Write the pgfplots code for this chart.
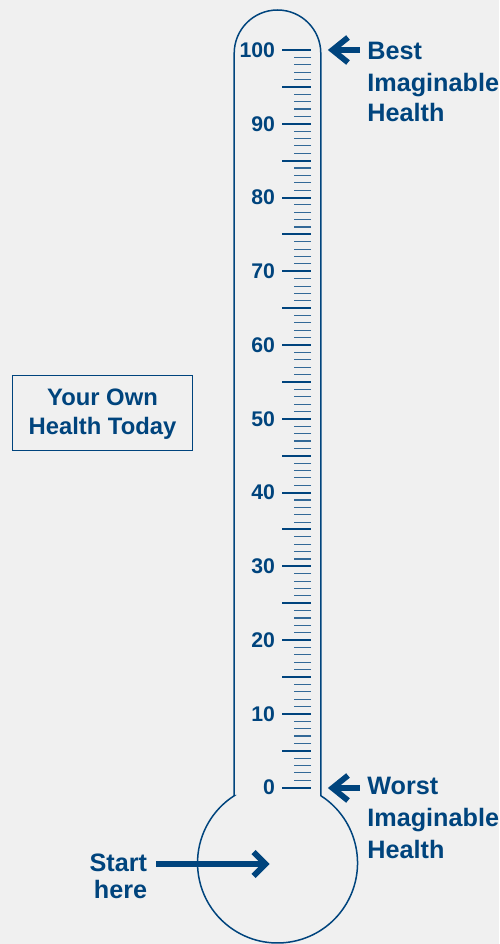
\documentclass[border=0pt]{standalone}
\usepackage{fontspec}
\setmainfont{Liberation Sans}
\usepackage{pgfplots}
\pgfplotsset{compat=1.18}
\definecolor{eqblue}{RGB}{0,68,125}
\definecolor{bg}{RGB}{240,240,240}
\newcommand\labfont{\fontsize{12.6}{15.5}\selectfont\bfseries}
\newcommand\boxfont{\fontsize{11.9}{14}\selectfont\bfseries}
\begin{document}
\begin{tikzpicture}
\fill[bg] (0,0) rectangle (249.5pt,472pt);
\begin{axis}[at={(0,0)}, anchor=south west, scale only axis,
  width=249.5pt, height=472pt, xmin=0, xmax=499, ymin=-21.19, ymax=106.78,
  hide axis, clip=false]
% minor ticks (every unit)
\addplot[only marks, mark=-, mark size=4.25pt, mark options={line width=0.55pt, draw=eqblue!80}]
 coordinates {
 (302.5,1)(302.5,2)(302.5,3)(302.5,4)(302.5,6)(302.5,7)(302.5,8)(302.5,9)
 (302.5,11)(302.5,12)(302.5,13)(302.5,14)(302.5,16)(302.5,17)(302.5,18)(302.5,19)
 (302.5,21)(302.5,22)(302.5,23)(302.5,24)(302.5,26)(302.5,27)(302.5,28)(302.5,29)
 (302.5,31)(302.5,32)(302.5,33)(302.5,34)(302.5,36)(302.5,37)(302.5,38)(302.5,39)
 (302.5,41)(302.5,42)(302.5,43)(302.5,44)(302.5,46)(302.5,47)(302.5,48)(302.5,49)
 (302.5,51)(302.5,52)(302.5,53)(302.5,54)(302.5,56)(302.5,57)(302.5,58)(302.5,59)
 (302.5,61)(302.5,62)(302.5,63)(302.5,64)(302.5,66)(302.5,67)(302.5,68)(302.5,69)
 (302.5,71)(302.5,72)(302.5,73)(302.5,74)(302.5,76)(302.5,77)(302.5,78)(302.5,79)
 (302.5,81)(302.5,82)(302.5,83)(302.5,84)(302.5,86)(302.5,87)(302.5,88)(302.5,89)
 (302.5,91)(302.5,92)(302.5,93)(302.5,94)(302.5,96)(302.5,97)(302.5,98)(302.5,99)
 };
% five ticks
\addplot[only marks, mark=-, mark size=7.3pt, mark options={line width=1pt, draw=eqblue}]
 coordinates {(296.3,5)(296.3,15)(296.3,25)(296.3,35)(296.3,45)(296.3,55)(296.3,65)(296.3,75)(296.3,85)(296.3,95)};
% ten ticks with labels
\addplot[only marks, mark=-, mark size=7.3pt, mark options={line width=1pt, draw=eqblue},
  point meta=explicit symbolic, nodes near coords,
  every node near coord/.append style={anchor=east, xshift=-10.2pt, yshift=0pt, inner sep=0pt,
    font=\fontsize{10.6}{12}\selectfont\bfseries, text=eqblue}]
 coordinates {(296.3,0)[0](296.3,10)[10](296.3,20)[20](296.3,30)[30](296.3,40)[40](296.3,50)[50]
 (296.3,60)[60](296.3,70)[70](296.3,80)[80](296.3,90)[90](296.3,100)[100]};
\end{axis}
\begin{scope}[x=0.5pt, y=0.5pt]
% thermometer outline
\draw[eqblue, line width=0.75pt] (234.2,148.3) -- (234.2,890.7)
  arc[start angle=180, end angle=0, radius=43.3] -- (320.8,148.3)
  arc[start angle=57.25, end angle=-237.25, radius=80] -- cycle;
% arrows
\begin{scope}[eqblue, line width=2.9pt, miter limit=10]
\draw (333,894) -- (360,894);
\draw[line join=miter] (348,906.5) -- (332.5,894) -- (348,881.5);
\draw (333,156) -- (360,156);
\draw[line join=miter] (348,168.5) -- (332.5,156) -- (348,143.5);
\draw (156,80) -- (265,80);
\draw[line join=miter] (253.5,92) -- (265.5,80) -- (253.5,68);
\end{scope}
% right labels
\node[anchor=base west, inner sep=0pt, text=eqblue, font=\labfont] at (367,884) {Best};
\node[anchor=base west, inner sep=0pt, text=eqblue, font=\labfont] at (367,852.3) {Imaginable};
\node[anchor=base west, inner sep=0pt, text=eqblue, font=\labfont] at (367,822.3) {Health};
\node[anchor=base west, inner sep=0pt, text=eqblue, font=\labfont] at (367,149) {Worst};
\node[anchor=base west, inner sep=0pt, text=eqblue, font=\labfont] at (367,117) {Imaginable};
\node[anchor=base west, inner sep=0pt, text=eqblue, font=\labfont] at (367,85) {Health};
% start here
\node[anchor=base east, inner sep=0pt, text=eqblue, font=\labfont] at (147.5,72) {Start};
\node[anchor=base east, inner sep=0pt, text=eqblue, font=\labfont] at (147.5,46) {here};
% box
\draw[eqblue, line width=0.75pt] (12.3,568.3) rectangle (192.7,493.3);
\node[anchor=base, inner sep=0pt, text=eqblue, font=\boxfont] at (102.5,538.3) {Your Own};
\node[anchor=base, inner sep=0pt, text=eqblue, font=\boxfont] at (102.5,509) {Health Today};
\end{scope}
\pgfresetboundingbox
\useasboundingbox (0,0) rectangle (249.5pt,472pt);
\end{tikzpicture}
\end{document}
